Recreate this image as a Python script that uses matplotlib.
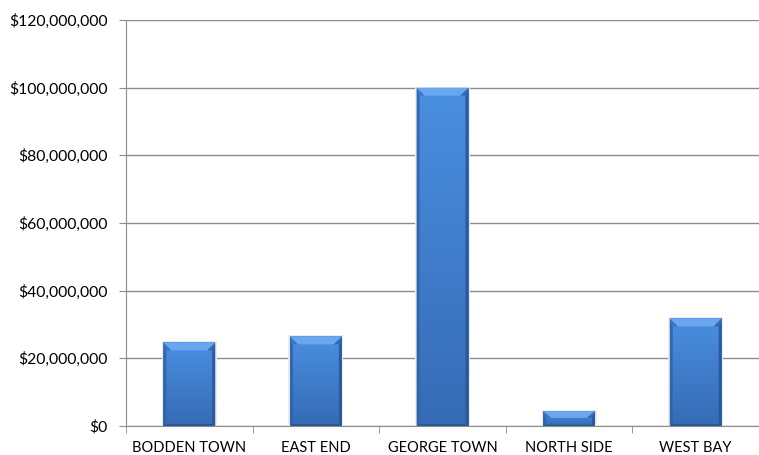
import numpy as np
import matplotlib.pyplot as plt
from matplotlib.patches import Polygon
from matplotlib.ticker import FuncFormatter, MultipleLocator

plt.rcParams['font.family'] = ['Lato', 'DejaVu Sans']

districts = ["BODDEN TOWN", "EAST END", "GEORGE TOWN", "NORTH SIDE", "WEST BAY"]
totals = [24700000, 26500000, 100000000, 4400000, 31800000]

W, H = 759, 455
left_px, bottom_px, top_px = 126, 426, 20
fig = plt.figure(figsize=(W / 100, H / 100), dpi=100)
ax = fig.add_axes([left_px / W, (H - bottom_px) / H, 1 - left_px / W, (bottom_px - top_px) / H])

x = np.arange(len(districts))
width = 0.41
ax.set_xlim(-0.5, len(districts) - 0.5)
ax.set_ylim(0, 120000000)

# data units per pixel, used for the bevel sizes
px_x = len(districts) / (W - left_px)
px_y = 120000000 / (bottom_px - top_px)

top_col = np.array([0.29, 0.56, 0.88])
bot_col = np.array([0.21, 0.42, 0.71])

bars = ax.bar(x, totals, width=width, color=top_col, zorder=3, linewidth=0)
for b in bars:
    x0, y0 = b.get_x(), b.get_y()
    w, h = b.get_width(), b.get_height()
    # vertical gradient, lighter at the top
    t = np.linspace(0, 1, 128)[:, None, None]
    img = bot_col * (1 - t) + top_col * t
    img = np.repeat(img, 4, axis=1)
    im = ax.imshow(img, extent=[x0, x0 + w, y0, y0 + h], aspect='auto', origin='lower',
                   zorder=3.1, interpolation='bilinear')
    im.set_clip_path(b)

    sx = 3 * px_x
    tx = 8 * px_x
    ty = min(8 * px_y, h * 0.45)
    sy = min(2 * px_y, h * 0.1)
    # top bevel
    ax.add_patch(Polygon([[x0, y0 + h], [x0 + w, y0 + h], [x0 + w - tx, y0 + h - ty],
                          [x0 + tx, y0 + h - ty]], closed=True, color='#6aa7ee', lw=0, zorder=3.2))
    ax.add_patch(Polygon([[x0, y0 + h], [x0 + tx, y0 + h - ty], [x0 + sx, y0 + h - ty]],
                         closed=True, color='#3a78c6', lw=0, zorder=3.3))
    ax.add_patch(Polygon([[x0 + w, y0 + h], [x0 + w - tx, y0 + h - ty], [x0 + w - sx, y0 + h - ty]],
                         closed=True, color='#3369b3', lw=0, zorder=3.3))
    # side bevels
    ax.add_patch(Polygon([[x0, y0], [x0, y0 + h], [x0 + sx, y0 + h - ty], [x0 + sx, y0 + sy]],
                         closed=True, color='#2e63a8', lw=0, zorder=3.2, alpha=0.85))
    ax.add_patch(Polygon([[x0 + w, y0], [x0 + w, y0 + h], [x0 + w - sx, y0 + h - ty],
                          [x0 + w - sx, y0 + sy]], closed=True, color='#28579a', lw=0,
                         zorder=3.2, alpha=0.9))
    # bottom bevel
    ax.add_patch(Polygon([[x0, y0], [x0 + w, y0], [x0 + w - sx, y0 + sy], [x0 + sx, y0 + sy]],
                         closed=True, color='#2a5896', lw=0, zorder=3.2))
    # faint shadow around the bar
    ax.add_patch(plt.Rectangle((x0 - 1.5 * px_x, y0), w + 3 * px_x, h + 1 * px_y,
                               color='#ececec', lw=0, zorder=2.9))

ax.yaxis.set_major_locator(MultipleLocator(20000000))
ax.yaxis.set_major_formatter(FuncFormatter(lambda v, p: f"${v:,.0f}"))
ax.grid(axis='y', color='#8c8c8c', linewidth=1, zorder=1)
ax.set_axisbelow(True)

ax.set_xticks(x)
ax.set_xticklabels(districts)
ax.set_xticks(np.arange(-0.5, len(districts)), minor=True)
ax.tick_params(axis='x', which='major', length=0, pad=11, labelsize=10.5, colors='black')
ax.tick_params(axis='x', which='minor', length=5, color='#8c8c8c', direction='out')
ax.tick_params(axis='y', length=5, color='#8c8c8c', direction='out', pad=8, labelsize=11.3)

for s in ['top', 'right']:
    ax.spines[s].set_visible(False)
for s in ['left', 'bottom']:
    ax.spines[s].set_color('#8c8c8c')

fig.savefig('out.png', dpi=100)
